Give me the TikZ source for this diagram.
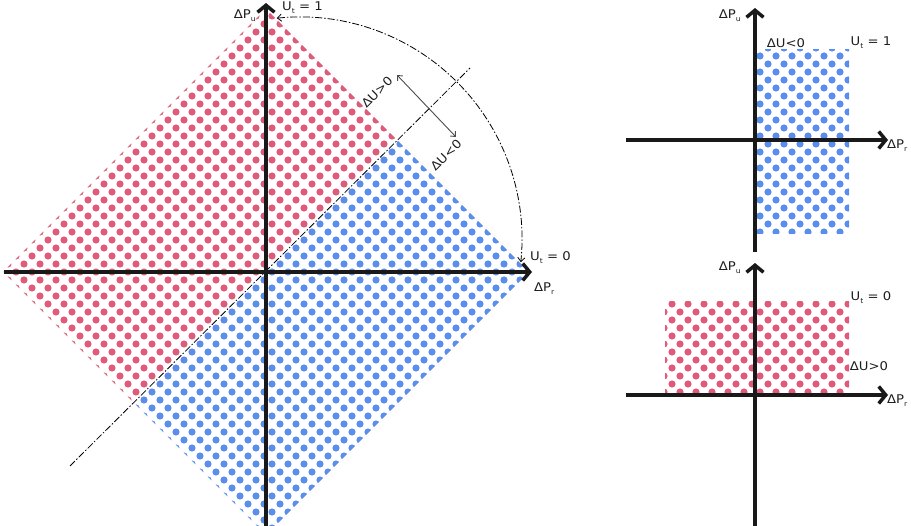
\documentclass[tikz,border=0pt]{standalone}
\usepackage{fontspec}
\setmainfont{DejaVu Sans}
\usetikzlibrary{arrows.meta}
\definecolor{pinkdot}{RGB}{224,90,124}
\definecolor{bluedot}{RGB}{90,142,234}
\definecolor{txt}{RGB}{30,30,30}
\newcommand{\mydotgrid}[5]{%
  \foreach \j in {#4,...,#5}{%
    \pgfmathtruncatemacro\myoff{mod(\j,2)*8}%
    \foreach \i in {#2,...,#3}{%
      \fill[#1] (\i*16+\myoff,\j*8) circle[radius=3.6];}}}
\newcommand{\mysub}[1]{\raisebox{-3pt}{\fontsize{7}{7}\selectfont #1}}
\newcommand{\wlab}[1]{\scalebox{1.1}[1]{#1}}
\begin{document}
\begin{tikzpicture}[x=1pt,y=-1pt,
  axis/.style={line width=3.5pt,-{Straight Barb[length=7pt,width=17pt]},black!90},
  lbl/.style={font=\fontsize{12}{14}\selectfont,text=txt,inner sep=1pt},
  dashdot/.style={line width=0.8pt,dash pattern=on 7pt off 2pt on 1.5pt off 2pt},
  dbl/.style={line width=0.9pt,black!70,{Straight Barb[length=4pt,width=7pt]}-{Straight Barb[length=4pt,width=7pt]}},
  arcarrow/.style={line width=0.8pt,dash pattern=on 7pt off 2pt on 1.5pt off 2pt,{Straight Barb[length=4pt,width=7pt]}-{Straight Barb[length=4pt,width=7pt]}}]
\useasboundingbox (0,0) rectangle (911,526);
% ---------- main diagram ----------
\begin{scope}
  \clip (3,272) -- (266,9) -- (397.5,140.5) -- (134.5,403.5) -- cycle;
  \mydotgrid{pinkdot}{0}{25}{0}{52}
\end{scope}
\begin{scope}
  \clip (134.5,403.5) -- (397.5,140.5) -- (529,272) -- (266,535) -- cycle;
  \mydotgrid{bluedot}{8}{34}{16}{67}
\end{scope}
\coordinate (dA) at (70,466);
\coordinate (dB) at (470,68);
\draw[dashdot] (dA) -- (dB);
\coordinate (aS) at (276.8,18.2);
\draw[arcarrow] (aS) arc[start angle=-96,end angle=6,radius=222];
\coordinate (dU1) at (397,75);
\coordinate (dU2) at (456,137);
\draw[dbl] (dU1) -- (dU2);
\coordinate (OyB) at (266,526);
\coordinate (OyT) at (266,3);
\coordinate (OxL) at (4,272);
\coordinate (OxR) at (532,272);
\draw[axis] (OyB) -- (OyT);
\draw[axis] (OxL) -- (OxR);
\node[lbl,anchor=east] (Pu) at (257,16) {\wlab{ΔP\mysub{u}}};
\node[lbl,anchor=west] (U1) at (281,8) {\wlab{U\mysub{t} = 1}};
\node[lbl,anchor=west] (U0) at (529,258) {\wlab{U\mysub{t} = 0}};
\node[lbl,anchor=west] (Pr) at (533,289) {\wlab{ΔP\mysub{r}}};
\node[lbl,rotate=45] (dUp) at (377,92) {\wlab{ΔU>0}};
\node[lbl,rotate=45] (dUn) at (446,155) {\wlab{ΔU<0}};
% ---------- top right ----------
\begin{scope}
  \clip (755,50) rectangle (849,234);
  \mydotgrid{bluedot}{46}{53}{6}{30}
\end{scope}
\coordinate (AyB) at (755,252);
\coordinate (AyT) at (755,8);
\coordinate (AxL) at (626,140);
\coordinate (AxR) at (888,140);
\draw[axis] (AyB) -- (AyT);
\draw[axis] (AxL) -- (AxR);
\node[lbl,anchor=east] (APu) at (742,16) {\wlab{ΔP\mysub{u}}};
\node[lbl] (AdU) at (786,43) {\wlab{ΔU<0}};
\node[lbl] (AU1) at (871,43) {\wlab{U\mysub{t} = 1}};
\node[lbl,anchor=west] (APr) at (886,146) {\wlab{ΔP\mysub{r}}};
% ---------- bottom right ----------
\begin{scope}
  \clip (665,302) rectangle (849,395);
  \mydotgrid{pinkdot}{40}{53}{37}{50}
\end{scope}
\coordinate (ByB) at (755,526);
\coordinate (ByT) at (755,263);
\coordinate (BxL) at (626,395);
\coordinate (BxR) at (888,395);
\draw[axis] (ByB) -- (ByT);
\draw[axis] (BxL) -- (BxR);
\node[lbl,anchor=east] (BPu) at (742,268) {\wlab{ΔP\mysub{u}}};
\node[lbl] (BU0) at (871,298) {\wlab{U\mysub{t} = 0}};
\node[lbl] (BdU) at (869,366) {\wlab{ΔU>0}};
\node[lbl,anchor=west] (BPr) at (886,401) {\wlab{ΔP\mysub{r}}};
\end{tikzpicture}
\end{document}
